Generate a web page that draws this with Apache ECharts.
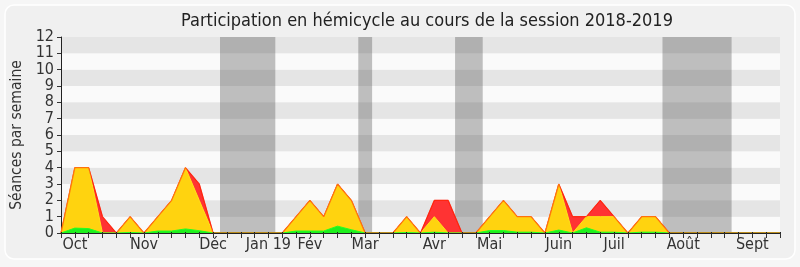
<!DOCTYPE html>
<html>
<head>
<meta charset="utf-8">
<script src="https://cdn.jsdelivr.net/npm/echarts@6/dist/echarts.min.js"></script>
<style>html,body{margin:0;padding:0;background:#f6f6f6;}#c{width:800px;height:267px;}</style>
</head>
<body>
<div id="c"></div>
<script>
// Week index 0..52 (weekly ticks)
const weeks = Array.from({length: 53}, (_, i) => i);
// Month labels at the week index where they appear
const monthLabels = {1:'Oct', 6:'Nov', 11:'Déc', 15:'Jan 19', 18:'Fév', 22:'Mar', 27:'Avr', 31:'Mai', 36:'Juin', 40:'Juil', 45:'Août', 50:'Sept'};
// Vacation periods (in week units)
const vacations = [[11.5, 15.5], [21.5, 22.5], [28.5, 30.5], [43.5, 48.5]];
// Séances par semaine (total presence) - red
const redValues = [0,4,4,1,0,1,0,1,2,4,3,0,0,0,0,0,0,1,2,1,3,2,0,0,0,1,0,2,2,0,0,1,2,1,1,0,3,1,1,2,1,0,1,1,0,0,0,0,0,0,0,0,0];
// yellow
const yellowValues = [0,4,4,0,0,1,0,1,2,4,2,0,0,0,0,0,0,1,2,1,3,2,0,0,0,1,0,1,0,0,0,1,2,1,1,0,3,0,1,1,1,0,1,1,0,0,0,0,0,0,0,0,0];
// green
const greenValues = [0,0.3,0.27,0,0,0.03,0,0.12,0.12,0.25,0.14,0,0,0,0,0,0,0.12,0.12,0.12,0.42,0.2,0,0,0,0.03,0,0.05,0,0,0,0.15,0.15,0.05,0.05,0,0.18,0,0.32,0.05,0.05,0,0.05,0.05,0,0,0,0,0,0,0,0,0];

const FONT = "'DejaVu Sans Condensed', 'DejaVu Sans', sans-serif";
const pairs = arr => arr.map((v, i) => [weeks[i], v]);

const chart = echarts.init(document.getElementById('c'), null, {renderer: 'canvas'});
chart.setOption({
  backgroundColor: '#f6f6f6',
  animation: false,
  graphic: [{
    type: 'rect', z: -10, silent: true,
    shape: {x: 5, y: 5, width: 790, height: 254, r: 9},
    style: {fill: '#f0f0f0', stroke: '#ffffff', lineWidth: 1.5}
  }],
  title: {
    text: 'Participation en hémicycle au cours de la session 2018-2019',
    left: 176, top: 7,
    textStyle: {fontFamily: FONT, fontSize: 18, fontWeight: 'normal', color: '#222'}
  },
  grid: {left: 61, right: 20, top: 37, bottom: 34, show: false},
  xAxis: [{
    type: 'value', min: 0, max: 52, interval: 1, z: 10,
    axisLine: {show: true, onZero: false, lineStyle: {color: '#222', width: 1}},
    axisTick: {show: true, length: 5, lineStyle: {color: '#333'}},
    axisLabel: {
      show: true, margin: 4, fontFamily: FONT, fontSize: 16, color: '#333',
      formatter: v => monthLabels[v] || ''
    },
    splitLine: {show: false},
    splitArea: {show: false}
  }, {
    type: 'value', min: 0, max: 52, interval: 1, position: 'top', z: 10,
    axisLine: {show: false},
    axisTick: {show: true, length: 1, lineStyle: {color: '#222'}},
    axisLabel: {show: false},
    splitLine: {show: false},
    splitArea: {show: false}
  }],
  yAxis: {
    type: 'value', min: 0, max: 12, interval: 1, z: 0,
    name: 'Séances par semaine', nameLocation: 'middle', nameGap: 34,
    nameTextStyle: {fontFamily: FONT, fontSize: 15.5, color: '#333'},
    axisLine: {show: true, lineStyle: {color: '#222'}},
    axisTick: {show: true, length: 4, lineStyle: {color: '#333'}},
    axisLabel: {margin: 7, fontFamily: FONT, fontSize: 16, color: '#333'},
    splitLine: {show: false},
    splitArea: {show: true, areaStyle: {color: ['#fafafa', '#e5e5e5']}}
  },
  series: [
    {
      name: 'vacances', type: 'line', data: [], z: 1, silent: true,
      markArea: {
        silent: true,
        itemStyle: {color: 'rgba(70,70,70,0.33)'},
        data: vacations.map(v => [{xAxis: v[0]}, {xAxis: v[1]}])
      }
    },
    {
      name: 'rouge', type: 'line', data: pairs(redValues), z: 2, showSymbol: false, silent: true,
      lineStyle: {color: '#ff1a1a', width: 1},
      areaStyle: {color: '#ff3333', opacity: 1}
    },
    {
      name: 'jaune', type: 'line', data: pairs(yellowValues), z: 3, showSymbol: false, silent: true,
      lineStyle: {color: '#ffe21a', width: 1},
      areaStyle: {color: '#ffd30f', opacity: 1}
    },
    {
      name: 'vert', type: 'line', data: pairs(greenValues), z: 4, showSymbol: false, silent: true,
      lineStyle: {color: '#22ff22', width: 1},
      areaStyle: {color: '#1ef01e', opacity: 1}
    },
    {
      name: 'contour', type: 'line', data: pairs(redValues), z: 5, showSymbol: false, silent: true,
      lineStyle: {color: 'rgba(255,40,0,0.55)', width: 1.3}
    }
  ]
});
</script>
</body>
</html>
